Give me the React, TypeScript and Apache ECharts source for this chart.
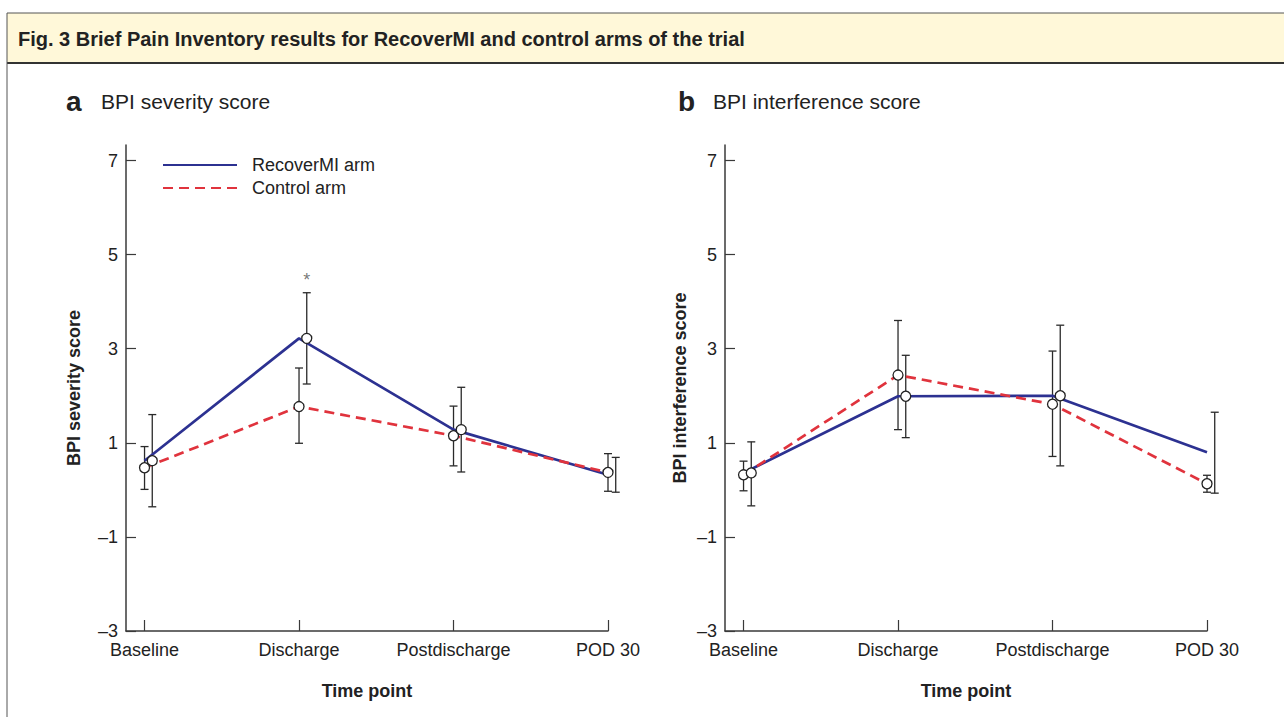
import React, { useEffect, useRef } from 'react';
import * as echarts from 'echarts';

// ---------- data ----------
const timePoints = ['Baseline', 'Discharge', 'Postdischarge', 'POD 30'];
const armNames = ['RecoverMI arm', 'Control arm'];
const yTickValues = [-3, -1, 1, 3, 5, 7];
const xTickValues = [0, 1, 2, 3];

// Panel a: BPI severity score
const sevRecoverMean = [0.62, 3.22, 1.28, 0.32];
const sevRecoverLow = [-0.36, 2.25, 0.38, -0.05];
const sevRecoverHigh = [1.6, 4.19, 2.18, 0.69];
const sevControlMean = [0.47, 1.77, 1.15, 0.37];
const sevControlLow = [0.01, 0.99, 0.51, -0.03];
const sevControlHigh = [0.92, 2.59, 1.78, 0.77];
const sevSignificance = [null, 4.45, null, null];

// Panel b: BPI interference score
const intRecoverMean = [0.36, 1.99, 2.0, 0.8];
const intRecoverLow = [-0.34, 1.11, 0.51, -0.07];
const intRecoverHigh = [1.02, 2.86, 3.5, 1.65];
const intControlMean = [0.32, 2.44, 1.82, 0.13];
const intControlLow = [-0.02, 1.28, 0.71, -0.05];
const intControlHigh = [0.61, 3.6, 2.95, 0.31];
const intSignificance = [null, null, null, null];

const panelTitles = ['BPI severity score', 'BPI interference score'];
const panelLetters = ['a', 'b'];
const figTitle = 'Fig. 3 Brief Pain Inventory results for RecoverMI and control arms of the trial';

// ---------- style ----------
const FONT = '"Liberation Sans", Arial, Helvetica, sans-serif';
const BLUE = '#2c3191';
const RED = '#e0333d';
const INK = '#222';
const AXIS = '#3a3a3a';
const ARM_OFFSET = 0.05;

function errorBarItem(params: any, api: any) {
  const x = api.value(0);
  const lo = api.coord([x, api.value(1)]);
  const hi = api.coord([x, api.value(2)]);
  const w = 4;
  const style = { stroke: '#2a2a2a', lineWidth: 1.3, fill: 'none' };
  return {
    type: 'group',
    children: [
      { type: 'line', shape: { x1: lo[0], y1: lo[1], x2: hi[0], y2: hi[1] }, style },
      { type: 'line', shape: { x1: lo[0] - w, y1: lo[1], x2: lo[0] + w, y2: lo[1] }, style },
      { type: 'line', shape: { x1: hi[0] - w, y1: hi[1], x2: hi[0] + w, y2: hi[1] }, style },
    ],
  };
}

function panelSeries(
  idx: number,
  rMean: number[], rLow: number[], rHigh: number[],
  cMean: number[], cLow: number[], cHigh: number[],
  sig: (number | null)[]
) {
  const axes = { xAxisIndex: idx, yAxisIndex: idx };
  const bars = [
    ...timePoints.map((_, i) => [i, cLow[i], cHigh[i]]),
    ...timePoints.map((_, i) => [i + ARM_OFFSET, rLow[i], rHigh[i]]),
  ];
  const circles = [
    ...timePoints.map((_, i) => [i, cMean[i]]),
    ...timePoints.map((_, i) => [i + ARM_OFFSET, rMean[i]]),
  ];
  const sigData = sig
    .map((v, i) => (v == null ? null : [i + ARM_OFFSET, v]))
    .filter((d) => d != null);
  return [
    {
      type: 'custom',
      ...axes,
      renderItem: errorBarItem,
      encode: { x: 0, y: [1, 2] },
      data: bars,
      z: 2,
      silent: true,
    },
    {
      type: 'line',
      name: armNames[0],
      ...axes,
      data: timePoints.map((_, i) => [i, rMean[i]]),
      symbol: 'none',
      lineStyle: { color: BLUE, width: 2.7 },
      itemStyle: { color: BLUE },
      z: 3,
    },
    {
      type: 'line',
      name: armNames[1],
      ...axes,
      data: timePoints.map((_, i) => [i, cMean[i]]),
      symbol: 'none',
      lineStyle: { color: RED, width: 2.7, type: [10, 6] },
      itemStyle: { color: RED },
      z: 3,
    },
    {
      type: 'scatter',
      ...axes,
      data: circles,
      symbol: 'circle',
      symbolSize: 10,
      itemStyle: { color: '#ffffff', borderColor: '#222', borderWidth: 1.3, opacity: 1 },
      z: 4,
      silent: true,
    },
    {
      type: 'scatter',
      ...axes,
      data: sigData,
      symbolSize: 1,
      itemStyle: { color: 'rgba(0,0,0,0)' },
      label: {
        show: true,
        position: 'inside',
        formatter: '*',
        fontSize: 18,
        color: '#555',
        fontFamily: FONT,
      },
      z: 5,
      silent: true,
    },
  ];
}

function xAxisFor(idx: number) {
  return {
    type: 'value',
    gridIndex: idx,
    min: -0.12,
    max: 3,
    axisLine: { show: true, onZero: false, lineStyle: { color: AXIS, width: 1.5 } },
    axisTick: { show: true, inside: true, length: 11, customValues: xTickValues, lineStyle: { color: AXIS, width: 1.2 } },
    axisLabel: {
      customValues: xTickValues,
      formatter: (v: number) => timePoints[Math.round(v)] ?? '',
      fontSize: 18,
      color: INK,
      fontFamily: FONT,
      margin: 10,
    },
    splitLine: { show: false },
    name: 'Time point',
    nameLocation: 'middle',
    nameGap: 51,
    nameTextStyle: { fontSize: 18, fontWeight: 'bold', color: INK, fontFamily: FONT },
  };
}

function yAxisFor(idx: number, name: string, gap: number) {
  return {
    type: 'value',
    gridIndex: idx,
    min: -3,
    max: 7.33,
    axisLine: { show: true, onZero: false, lineStyle: { color: AXIS, width: 1.5 } },
    axisTick: { show: true, inside: true, length: 10, customValues: yTickValues, lineStyle: { color: AXIS, width: 1.2 } },
    axisLabel: {
      customValues: yTickValues,
      formatter: (v: number) => (v < 0 ? '\u2013' + Math.abs(v) : String(v)),
      fontSize: 18,
      color: INK,
      fontFamily: FONT,
      margin: 8,
    },
    splitLine: { show: false },
    name,
    nameLocation: 'middle',
    nameGap: gap,
    nameRotate: 90,
    nameTextStyle: { fontSize: 18, fontWeight: 'bold', color: INK, fontFamily: FONT },
  };
}

function App() {
  const ref = useRef<HTMLDivElement>(null);
  useEffect(() => {
    if (!ref.current) return;
    const chart = echarts.init(ref.current, null, { renderer: 'svg' });
    const titleText = (text: string, x: number, y: number, size: number, weight: string) => ({
      type: 'text',
      x,
      y,
      style: { text, fontSize: size, fontWeight: weight, fontFamily: FONT, fill: INK, verticalAlign: 'middle' },
      silent: true,
    });
    const option: any = {
      animation: false,
      backgroundColor: '#ffffff',
      textStyle: { fontFamily: FONT },
      grid: [
        { left: 126, right: 676, top: 145, bottom: 86 },
        { left: 725, right: 77, top: 145, bottom: 86 },
      ],
      xAxis: [xAxisFor(0), xAxisFor(1)],
      yAxis: [yAxisFor(0, 'BPI severity score', 43), yAxisFor(1, 'BPI interference score', 36)],
      legend: {
        data: armNames,
        left: 162,
        top: 156,
        padding: 0,
        orient: 'vertical',
        itemWidth: 74,
        itemHeight: 20,
        itemGap: 5,
        selectedMode: false,
        itemStyle: { opacity: 0 },
        textStyle: { fontSize: 18, color: INK, fontFamily: FONT, padding: [0, 0, 0, 10] },
      },
      graphic: [
        { type: 'rect', shape: { x: 7, y: 13, width: 1290, height: 50 }, style: { fill: '#fff8d9' }, silent: true },
        { type: 'line', shape: { x1: 7, y1: 13, x2: 1290, y2: 13 }, style: { stroke: '#555', lineWidth: 1 }, silent: true },
        { type: 'line', shape: { x1: 7, y1: 63, x2: 1290, y2: 63 }, style: { stroke: '#333', lineWidth: 2 }, silent: true },
        { type: 'line', shape: { x1: 7, y1: 13, x2: 7, y2: 720 }, style: { stroke: '#555', lineWidth: 1 }, silent: true },
        titleText(figTitle, 18, 39, 20, 'bold'),
        titleText(panelLetters[0], 66, 101, 28, 'bold'),
        titleText(panelTitles[0], 101, 101, 21, 'normal'),
        titleText(panelLetters[1], 678, 101, 28, 'bold'),
        titleText(panelTitles[1], 713, 101, 21, 'normal'),
      ],
      series: [
        ...panelSeries(0, sevRecoverMean, sevRecoverLow, sevRecoverHigh, sevControlMean, sevControlLow, sevControlHigh, sevSignificance),
        ...panelSeries(1, intRecoverMean, intRecoverLow, intRecoverHigh, intControlMean, intControlLow, intControlHigh, intSignificance),
      ],
    };
    chart.setOption(option);
    return () => chart.dispose();
  }, []);
  return (
    <div
      ref={ref}
      style={{ position: 'fixed', left: 0, top: 0, width: 1284, height: 717, background: '#fff' }}
    />
  );
}

export default App;
